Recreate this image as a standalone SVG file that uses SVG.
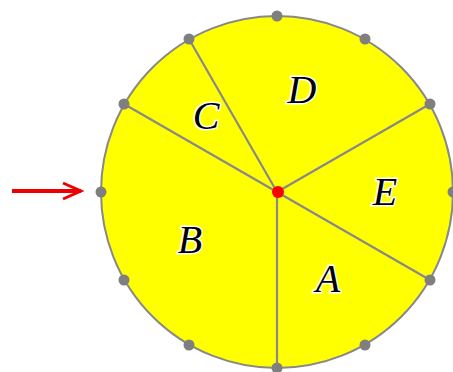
<svg xmlns="http://www.w3.org/2000/svg" width="453" height="372" viewBox="0 0 453 372">
<style>
.disk{fill:#ffff00;stroke:#888888;stroke-width:2}
.spoke{stroke:#888888;stroke-width:2.2;fill:none}
.pt{fill:#7f7f7f}
.lbl{font-family:"Liberation Serif","DejaVu Serif",serif;font-style:italic;font-size:40px;fill:#000;stroke:#fff;stroke-width:3;paint-order:stroke;text-anchor:middle}
.arrow{stroke:#ee0000;stroke-width:4;fill:none}
</style>
<defs>
<marker id="chev" viewBox="0 0 24 24" refX="21" refY="12" markerWidth="24" markerHeight="24" orient="auto" markerUnits="userSpaceOnUse">
<path d="M3,4 L21,12 L3,20" fill="none" stroke="#ee0000" stroke-width="3"/>
</marker>
</defs>
<g id="disk"><circle class="disk" cx="277" cy="192" r="176"/></g>
<g id="connectors">
<line class="spoke" x1="277" y1="192" x2="277" y2="368"/>
<line class="spoke" x1="277" y1="192" x2="124" y2="104"/>
<line class="spoke" x1="277" y1="192" x2="189" y2="39"/>
<line class="spoke" x1="277" y1="192" x2="430" y2="104"/>
<line class="spoke" x1="277" y1="192" x2="430" y2="280"/>
<line class="arrow" x1="12" y1="191" x2="81" y2="191" marker-end="url(#chev)"/>
</g>
<g id="points">
<circle class="pt" cx="277" cy="16" r="5.5"/>
<circle class="pt" cx="189" cy="39" r="5.5"/>
<circle class="pt" cx="124" cy="104" r="5.5"/>
<circle class="pt" cx="101" cy="192" r="5.5"/>
<circle class="pt" cx="124" cy="280" r="5.5"/>
<circle class="pt" cx="189" cy="345" r="5.5"/>
<circle class="pt" cx="277" cy="368" r="5.5"/>
<circle class="pt" cx="365" cy="345" r="5.5"/>
<circle class="pt" cx="430" cy="280" r="5.5"/>
<circle class="pt" cx="453" cy="192" r="5.5"/>
<circle class="pt" cx="430" cy="104" r="5.5"/>
<circle class="pt" cx="365" cy="39" r="5.5"/>
</g>
<g id="center"><circle cx="278" cy="192" r="6" fill="#ff0000"/></g>
<g id="node-D"><text class="lbl" x="302" y="103">D</text></g>
<g id="node-C"><text class="lbl" x="206" y="129">C</text></g>
<g id="node-E"><text class="lbl" x="385" y="205">E</text></g>
<g id="node-B"><text class="lbl" x="190" y="253">B</text></g>
<g id="node-A"><text class="lbl" x="328" y="292">A</text></g>
</svg>
